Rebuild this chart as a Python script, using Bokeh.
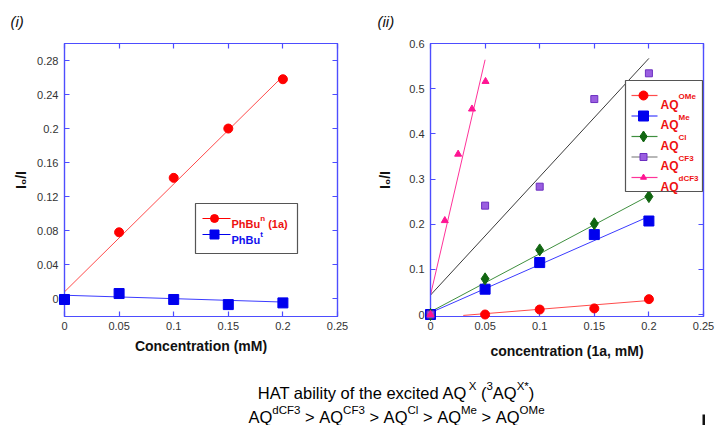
from bokeh.plotting import figure
from bokeh.models import Range1d, LinearAxis, FixedTicker, NumeralTickFormatter, Label
from bokeh.core.properties import value
from bokeh.layouts import column, row
from bokeh.embed import file_html
from bokeh.resources import INLINE

FONT = "Liberation Sans"
FRAME_BLUE = "#4d4dff"

# ---------------- panel (i) data ----------------
conc = [0, 0.05, 0.1, 0.15, 0.2]
phbun_x = [0.05, 0.1, 0.15, 0.2]
phbun_y = [0.078, 0.142, 0.200, 0.258]
phbut_y = [-0.001, 0.006, -0.001, -0.007, -0.005]
fit_x = [0, 0.2]
phbun_fit = [0.008, 0.2615]
phbut_fit = [0.004, -0.004]
xticks = [0, 0.05, 0.1, 0.15, 0.2, 0.25]
yticks_i = [0, 0.04, 0.08, 0.12, 0.16, 0.2, 0.24, 0.28]

# ---------------- panel (ii) data ----------------
ome_y = [0, 0.000, 0.011, 0.0135, 0.034]
me_y = [0, 0.056, 0.115, 0.177, 0.207]
cl_y = [0, 0.079, 0.143, 0.201, 0.261]
cf3_y = [0, 0.241, 0.283, 0.477, 0.534]
dcf3_x = [0, 0.0131, 0.0253, 0.038, 0.0504]
dcf3_y = [0, 0.208, 0.355, 0.455, 0.516]
ome_fit_x = [0.03, 0.2]
ome_fit = [-0.002, 0.031]
me_fit = [0.004, 0.217]
cl_fit = [0.006, 0.263]
cf3_fit = [0.043, 0.567]
dcf3_fit_x = [0, 0.05]
dcf3_fit = [0.043, 0.564]
yticks_ii = [0, 0.1, 0.2, 0.3, 0.4, 0.5, 0.6]

# ---------------- text metrics (Arial-compatible) ----------------
W_REG = {' ': 278, '(': 333, ')': 333, '*': 389, '/': 278, '>': 584, '.': 278, ',': 278,
         'A': 667, 'B': 667, 'C': 722, 'F': 611, 'H': 722, 'I': 278, 'M': 833, 'O': 778,
         'P': 667, 'Q': 778, 'T': 611, 'X': 667,
         'a': 556, 'b': 556, 'c': 500, 'd': 556, 'e': 556, 'f': 278, 'h': 556, 'i': 222,
         'l': 222, 'm': 833, 'n': 556, 'o': 556, 'r': 333, 's': 500, 't': 278, 'u': 556,
         'x': 500, 'y': 500}
W_BOLD = {' ': 278, '(': 333, ')': 333, '/': 278, 'A': 722, 'B': 722, 'C': 722, 'F': 611,
          'I': 278, 'M': 833, 'O': 778, 'P': 667, 'Q': 778, 'a': 556, 'd': 611, 'e': 556,
          'h': 611, 'l': 278, 'n': 611, 't': 333, 'u': 611}


def tw(text, size, bold):
    tab = W_BOLD if bold else W_REG
    return sum(tab.get(c, 556) for c in text) * size / 1000.0


def mk_conv(FL, FT, xr, yr, W=273, H=273):
    def conv(cx, cy):
        return (xr[0] + (cx - FL) / W * (xr[1] - xr[0]),
                yr[1] - (cy - FT) / H * (yr[1] - yr[0]))
    return conv


def label(p, conv, cx, cy, text, size, color="#000000", style="normal", level=None):
    x, y = conv(cx, cy)
    if level is None:
        p.add_layout(Label(x=x, y=y, text=text, text_font=FONT, text_font_size=f"{size}px",
                           text_font_style=style, text_color=color, text_baseline="alphabetic",
                           text_align="left"))
    else:
        p.text(x=[x], y=[y], text=[text], text_font=value(FONT), text_font_size=value(f"{size}px"),
               text_font_style=style, text_color=color, text_baseline="alphabetic",
               text_align="left", level=level)


def segments(p, conv, x0, base, segs, center=None, level=None):
    """segs: (text, size, raise, bold, color)"""
    total = sum(tw(t, s, b) for t, s, r, b, c in segs)
    x = x0 if center is None else center - total / 2.0
    for t, s, r, b, c in segs:
        stripped = t.lstrip(' ')
        x += tw(t[:len(t) - len(stripped)], s, b)
        if stripped.strip():
            label(p, conv, x, base - r, stripped.rstrip(' '), s, c, "bold" if b else "normal", level)
        x += tw(stripped, s, b)


def style_axis(ax):
    ax.axis_line_color = FRAME_BLUE
    ax.axis_line_width = 1.2
    ax.major_tick_line_color = FRAME_BLUE
    ax.major_tick_line_width = 1.2
    ax.major_tick_in = 5
    ax.major_tick_out = 0
    ax.minor_tick_line_color = FRAME_BLUE
    ax.minor_tick_line_width = 1.2
    ax.minor_tick_in = 5
    ax.minor_tick_out = 0


def make_panel(xr, yr, yticks, ml, mr, xlabel, xl_standoff, yl_standoff, tag, tag_offset):
    p = figure(frame_width=273, frame_height=273, x_range=Range1d(*xr), y_range=Range1d(*yr),
               min_border_left=ml, min_border_right=mr, min_border_top=43, min_border_bottom=52,
               output_backend="svg", toolbar_location=None, x_axis_type=None, y_axis_type=None)
    p.outline_line_color = FRAME_BLUE
    p.outline_line_width = 1.2
    p.background_fill_color = "white"
    p.border_fill_color = "white"
    p.title.text = tag
    p.title.text_font = FONT
    p.title.text_font_size = "15px"
    p.title.text_font_style = "italic"
    p.title.text_color = "#111111"
    p.title.align = "left"
    p.title.offset = tag_offset
    p.title.vertical_align = "top"
    p.title.standoff = 24
    for loc, ticks in [("below", xticks), ("left", yticks)]:
        ax = LinearAxis(ticker=FixedTicker(ticks=ticks),
                        formatter=NumeralTickFormatter(format="0.[00]"))
        style_axis(ax)
        ax.major_label_text_font = FONT
        ax.major_label_text_color = "#333333"
        ax.major_label_text_font_size = "11px"
        ax.axis_label_text_font = FONT
        ax.axis_label_text_font_style = "bold"
        ax.axis_label_text_color = "#111111"
        if loc == "below":
            ax.major_label_standoff = 5
            ax.axis_label = xlabel
            ax.axis_label_text_font_size = "14px"
            ax.axis_label_standoff = xl_standoff
        else:
            ax.major_label_standoff = 6
            ax.axis_label = "I\u2080/I"
            ax.axis_label_text_font_size = "14px"
            ax.axis_label_standoff = yl_standoff
        p.add_layout(ax, loc)
    for loc, ticks in [("above", xticks), ("right", yticks)]:
        ax = LinearAxis(ticker=FixedTicker(ticks=[], minor_ticks=ticks))
        style_axis(ax)
        p.add_layout(ax, loc)
    return p


# ---------------- panel (i) ----------------
xr = (0, 0.25)
yr1 = (-0.021, 0.300)
p1 = make_panel(xr, yr1, yticks_i, 64, 36, "Concentration (mM)", 5, 5, "(i)", -54)
c1 = mk_conv(64, 43, xr, yr1)

p1.line(fit_x, phbun_fit, line_color="#ff4b4b", line_width=1)
p1.line(fit_x, phbut_fit, line_color="#3b3bff", line_width=1)
p1.scatter(phbun_x, phbun_y, marker="circle", size=9, fill_color="#ff0000", line_color="#ff0000",
           level="annotation")
p1.scatter(conc, phbut_y, marker="square", size=10, fill_color="#0000ee", line_color="#0000ee",
           level="annotation")

# legend (i)
OV = "overlay"
bx0, by0 = c1(195, 203)
bx1, by1 = c1(297, 253)
p1.quad(left=[bx0], right=[bx1], bottom=[by1], top=[by0], fill_color="white",
        line_color="#555555", line_width=1.2, level=OV)
for ry, col, mk, msz in [(218, "#ff0000", "circle", 8), (234, "#0000ee", "square", 9)]:
    lx0, ly = c1(202, ry)
    lx1, _ = c1(230, ry)
    mx, _ = c1(214, ry)
    p1.line([lx0, lx1], [ly, ly], line_color=col, line_width=1, level=OV)
    p1.scatter([mx], [ly], marker=mk, size=msz, fill_color=col, line_color=col, level=OV)
segments(p1, c1, 231, 223, [("PhBu", 11, 0, True, "#ee1111"), ("n", 8, 5, True, "#ee1111"),
                           (" (1a)", 11, 0, True, "#ee1111")], level=OV)
segments(p1, c1, 231, 239, [("PhBu", 11, 0, True, "#1111ee"), ("t", 8, 5, True, "#1111ee")],
         level=OV)

# ---------------- panel (ii) ----------------
yr2 = (-0.0044, 0.6)
p2 = make_panel(xr, yr2, yticks_ii, 57, 12, "concentration (1a, mM)", 10, 13, "(ii)", -53)
c2 = mk_conv(57, 43, xr, yr2)

p2.line(ome_fit_x, ome_fit, line_color="#ff4b4b", line_width=1)
p2.line(fit_x, me_fit, line_color="#3b3bff", line_width=1)
p2.line(fit_x, cl_fit, line_color="#3f8f3f", line_width=1)
p2.line(fit_x, cf3_fit, line_color="#3a3a3a", line_width=1)
p2.line(dcf3_fit_x, dcf3_fit, line_color="#ff3399", line_width=1)
AN = "annotation"
p2.scatter(conc, ome_y, marker="circle", size=9, fill_color="#ff0000", line_color="#ff0000", level=AN)
p2.scatter(conc, me_y, marker="square", size=10, fill_color="#0000ee", line_color="#0000ee", level=AN)
p2.scatter(conc, cl_y, marker="diamond", size=12, fill_color="#116611", line_color="#116611", level=AN)
p2.scatter(conc, cf3_y, marker="square", size=7, fill_color="#9a5ee0", line_color="#6b2fc0", level=AN)
p2.scatter(dcf3_x, dcf3_y, marker="triangle", size=7, fill_color="#ff1493", line_color="#ff1493",
           level=AN)

# legend (ii)
bx0, by0 = c2(252, 80)
bx1, by1 = c2(329, 191)
p2.quad(left=[bx0], right=[bx1], bottom=[by1], top=[by0], fill_color="white",
        line_color="#555555", line_width=1.2, level=OV)
leg2 = [("OMe", "#ff4b4b", "circle", 9, "#ff0000", "#ff0000"),
        ("Me", "#3b3bff", "square", 10, "#0000ee", "#0000ee"),
        ("Cl", "#3f8f3f", "diamond", 11, "#116611", "#116611"),
        ("CF3", "#888888", "square", 7, "#9a5ee0", "#6b2fc0"),
        ("dCF3", "#ff3399", "triangle", 6, "#ff1493", "#ff1493")]
for i, (sup, lc, mk, msz, fc, mlc) in enumerate(leg2):
    ry = 95 + 20.5 * i
    lx0, ly = c2(258, ry)
    lx1, _ = c2(284, ry)
    mx, _ = c2(270, ry)
    p2.line([lx0, lx1], [ly, ly], line_color=lc, line_width=1.2, level=OV)
    p2.scatter([mx], [ly], marker=mk, size=msz, fill_color=fc, line_color=mlc, level=OV)
    segments(p2, c2, 287, ry + 9, [("AQ", 12, 0, True, "#ee1111"), (sup, 8, 8, True, "#ee1111")],
             level=OV)

# ---------------- caption ----------------
p3 = figure(width=715, height=57, x_range=Range1d(0, 715), y_range=Range1d(57, 0),
            min_border=0, output_backend="svg", toolbar_location=None,
            x_axis_type=None, y_axis_type=None)
p3.outline_line_color = None
p3.background_fill_color = "white"
p3.border_fill_color = "white"
ident = lambda cx, cy: (cx, cy)
M, S, R = 16.5, 11.5, 7
segments(p3, ident, 0, 24, [("HAT ability of the excited AQ", M, 0, False, "#000000"),
                            ("X", S, R, False, "#000000"),
                            (" (", M, 0, False, "#000000"),
                            ("3", S, R, False, "#000000"),
                            ("AQ", M, 0, False, "#000000"),
                            ("X*", S, R, False, "#000000"),
                            (")", M, 0, False, "#000000")], center=395.5)
line2 = []
for j, sup in enumerate(["dCF3", "CF3", "Cl", "Me", "OMe"]):
    if j:
        line2.append((" > ", M, 0, False, "#000000"))
    line2.append(("AQ", M, 0, False, "#000000"))
    line2.append((sup, S, R, False, "#000000"))
segments(p3, ident, 0, 48, line2, center=396)
p3.quad(left=[702], right=[704.5], top=[46], bottom=[57], fill_color="#111111", line_color=None)

layout = column(row(p1, p2), p3)
open("out.html", "w").write(file_html(layout, INLINE))
